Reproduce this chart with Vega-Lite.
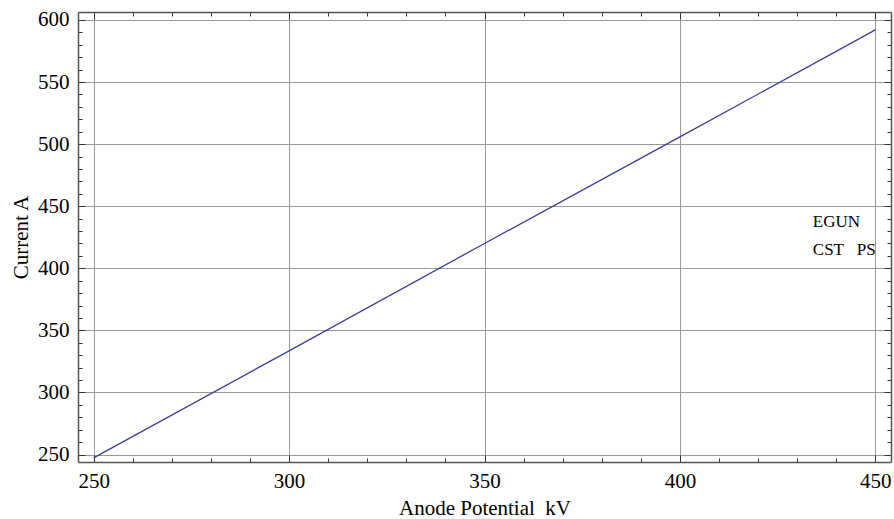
{
  "$schema": "https://vega.github.io/schema/vega-lite/v6.json",
  "width": 813,
  "height": 450,
  "autosize": {"type": "none"},
  "padding": {"left": 78, "top": 12, "right": 3, "bottom": 57},
  "background": "white",
  "config": {
    "view": {"stroke": null},
    "font": "Liberation Serif, Times New Roman, serif",
    "axis": {
      "labelFont": "Liberation Serif, Times New Roman, serif",
      "titleFont": "Liberation Serif, Times New Roman, serif",
      "labelFontSize": 21,
      "titleFontSize": 21,
      "labelColor": "black",
      "titleColor": "black",
      "titleFontWeight": "normal",
      "domainColor": "#555555",
      "domainWidth": 1.5,
      "tickColor": "#333333",
      "tickWidth": 1,
      "gridColor": "#999999",
      "gridWidth": 1,
      "labelOverlap": false,
      "labelFlush": false
    }
  },
  "datasets": {
    "curve": [
      {"kv": 250, "current": 247.3},
      {"kv": 300, "current": 333.5},
      {"kv": 350, "current": 420.0},
      {"kv": 400, "current": 505.8},
      {"kv": 450, "current": 592.0}
    ],
    "notes": [
      {"kv": 434, "current": 433.1, "label": "EGUN"},
      {"kv": 434, "current": 410.6, "label": "CST\u00a0\u00a0\u00a0PS"}
    ]
  },
  "resolve": {"axis": {"x": "independent", "y": "independent"}},
  "layer": [
    {
      "data": {"name": "curve"},
      "mark": {"type": "line", "color": "#3d3d99", "strokeWidth": 1.3, "clip": true},
      "encoding": {
        "x": {
          "field": "kv", "type": "quantitative",
          "scale": {"domain": [246, 454], "nice": false, "zero": false},
          "axis": {
            "orient": "bottom",
            "title": "Anode Potential\u00a0\u00a0kV",
            "titlePadding": 3,
            "values": [250,260,270,280,290,300,310,320,330,340,350,360,370,380,390,400,410,420,430,440,450],
            "labelExpr": "datum.value % 50 === 0 ? datum.label : ''",
            "format": "d",
            "labelPadding": 15,
            "tickSize": {"condition": {"test": "datum.value % 50 === 0", "value": -7}, "value": -4},
            "grid": true,
            "gridOpacity": {"condition": {"test": "datum.value % 50 === 0", "value": 1}, "value": 0}
          }
        },
        "y": {
          "field": "current", "type": "quantitative",
          "scale": {"domain": [244, 606.4], "nice": false, "zero": false},
          "axis": {
            "orient": "left",
            "title": "Current A",
            "titlePadding": 6,
            "values": [250,260,270,280,290,300,310,320,330,340,350,360,370,380,390,400,410,420,430,440,450,460,470,480,490,500,510,520,530,540,550,560,570,580,590,600],
            "labelExpr": "datum.value % 50 === 0 ? datum.label : ''",
            "format": "d",
            "labelPadding": 16,
            "tickSize": {"condition": {"test": "datum.value % 50 === 0", "value": -7}, "value": -4},
            "grid": true,
            "gridOpacity": {"condition": {"test": "datum.value % 50 === 0", "value": 1}, "value": 0}
          }
        }
      }
    },
    {
      "data": {"name": "curve"},
      "mark": {"type": "line", "opacity": 0},
      "encoding": {
        "x": {
          "field": "kv", "type": "quantitative",
          "scale": {"domain": [246, 454], "nice": false, "zero": false},
          "axis": {
            "orient": "top",
            "title": null,
            "labels": false,
            "grid": false,
            "values": [250,260,270,280,290,300,310,320,330,340,350,360,370,380,390,400,410,420,430,440,450],
            "tickSize": {"condition": {"test": "datum.value % 50 === 0", "value": -7}, "value": -4}
          }
        },
        "y": {
          "field": "current", "type": "quantitative",
          "scale": {"domain": [244, 606.4], "nice": false, "zero": false},
          "axis": {
            "orient": "right",
            "title": null,
            "labels": false,
            "grid": false,
            "values": [250,260,270,280,290,300,310,320,330,340,350,360,370,380,390,400,410,420,430,440,450,460,470,480,490,500,510,520,530,540,550,560,570,580,590,600],
            "tickSize": {"condition": {"test": "datum.value % 50 === 0", "value": -7}, "value": -4}
          }
        }
      }
    },
    {
      "data": {"name": "notes"},
      "mark": {"type": "text", "align": "left", "baseline": "alphabetic", "font": "Liberation Serif, Times New Roman, serif", "fontSize": 17, "color": "black"},
      "encoding": {
        "x": {"field": "kv", "type": "quantitative", "scale": {"domain": [246, 454], "nice": false, "zero": false}, "axis": null},
        "y": {"field": "current", "type": "quantitative", "scale": {"domain": [244, 606.4], "nice": false, "zero": false}, "axis": null},
        "text": {"field": "label"}
      }
    }
  ]
}
